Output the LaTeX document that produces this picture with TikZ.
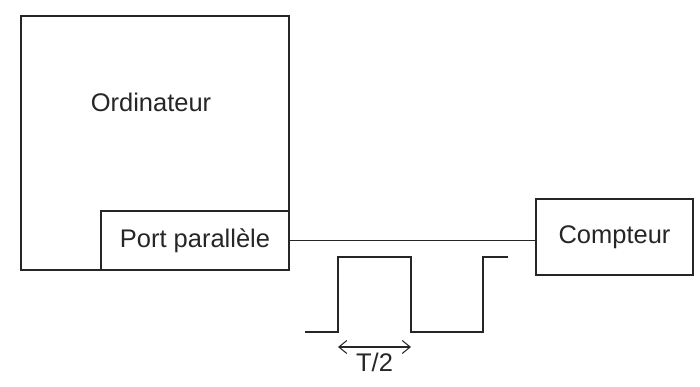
\documentclass[tikz,border=0pt]{standalone}
\usepackage{fontspec}
\setmainfont{Liberation Sans}
\usepackage{tikz}
\usetikzlibrary{arrows.meta,positioning,calc}
\tikzset{
  blockv/.style={rectangle,draw=black!85,line width=1.1pt,inner sep=0pt},
  lab/.style={font=\fontsize{14.5}{17}\selectfont,text=black!85},
  wire/.style={line width=1.1pt,black!85},
  signal/.style={line width=1.1pt,black!85,line join=miter},
  span/.style={line width=.6pt,black!85,{Straight Barb[length=1.6mm,width=2.6mm]}-{Straight Barb[length=1.6mm,width=2.6mm]}}
}
\begin{document}
\begin{tikzpicture}
  \useasboundingbox (0,0) rectangle (14,-7.74);
  \node[blockv,minimum width=5.36cm,minimum height=5.08cm] (ord) at (3.10,-2.86) {};
  \node[lab] (ordlab) at (3.02,-2.04) {Ordinateur};
  \node[blockv,lab,minimum width=3.76cm,minimum height=1.18cm] (port) at (3.90,-4.81) {Port parallèle};
  \node[blockv,lab,minimum width=3.14cm,minimum height=1.52cm] (cpt) at (12.29,-4.74) {Compteur};
  \draw[wire] (port.east) -- (port.east -| cpt.west);
  % signal carre
  \coordinate (up1) at (6.76,-6.64);
  \coordinate (dn1) at (8.22,-6.64);
  \draw[signal] (6.10,-6.64) -- (up1) -- (6.76,-5.14) -- (8.22,-5.14) -- (dn1)
    -- (9.66,-6.64) -- (9.66,-5.14) -- (10.16,-5.14);
  \draw[span] ($(up1)+(0,-0.30)$) coordinate (a1) -- ($(dn1)+(0,-0.30)$) coordinate (a2);
  \node[lab,below=0pt of $(a1)!.5!(a2)$] (half) {T/2};
\end{tikzpicture}
\end{document}
